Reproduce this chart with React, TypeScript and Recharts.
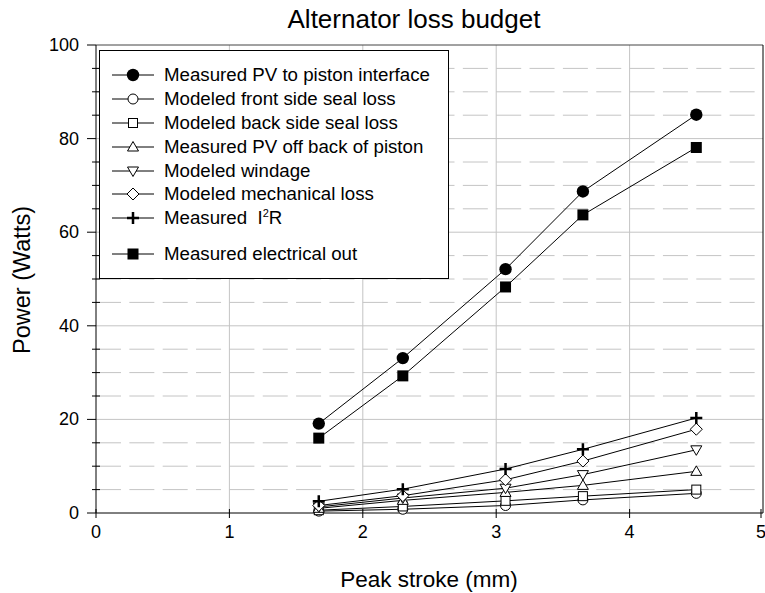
import { LineChart, Line, XAxis, YAxis, ReferenceLine, Legend } from "recharts"

const strokeMm = [1.67, 2.3, 3.07, 3.65, 4.5]

const pvPiston = [19.1, 33.1, 52.1, 68.7, 85.1]
const frontSeal = [0.4, 0.8, 1.6, 2.8, 4.2]
const backSeal = [0.6, 1.4, 2.6, 3.6, 5.0]
const pvBack = [1.0, 2.7, 4.4, 5.9, 8.9]
const windage = [1.3, 3.2, 5.3, 8.2, 13.5]
const mechLoss = [1.6, 3.7, 7.1, 11.1, 17.9]
const i2r = [2.5, 5.1, 9.4, 13.6, 20.3]
const elecOut = [16.0, 29.3, 48.3, 63.7, 78.1]

const xTicks = [0, 1, 2, 3, 4, 5]
const yTicks = [0, 5, 10, 15, 20, 25, 30, 35, 40, 45, 50, 55, 60, 65, 70, 75, 80, 85, 90, 95, 100]
const yMajor = [0, 20, 40, 60, 80, 100]
const xGrid = [1, 2, 3, 4]
const yGridSolid = [20, 40, 60, 80]
const yGridDashed = [5, 10, 15, 25, 30, 35, 45, 50, 55, 65, 70, 75, 85, 90, 95]

const series = [
  { key: "pvPiston", name: "Measured PV to piston interface", values: pvPiston, marker: "filledCircle" },
  { key: "frontSeal", name: "Modeled front side seal loss", values: frontSeal, marker: "circle" },
  { key: "backSeal", name: "Modeled back side seal loss", values: backSeal, marker: "square" },
  { key: "pvBack", name: "Measured PV off back of piston", values: pvBack, marker: "triangleUp" },
  { key: "windage", name: "Modeled windage", values: windage, marker: "triangleDown" },
  { key: "mechLoss", name: "Modeled mechanical loss", values: mechLoss, marker: "diamond" },
  { key: "i2r", name: "Measured I2R", values: i2r, marker: "plus" },
  { key: "elecOut", name: "Measured electrical out", values: elecOut, marker: "filledSquare" },
]

const data = strokeMm.map((x, i) => {
  const row: Record<string, number> = { x }
  series.forEach((s) => (row[s.key] = s.values[i]))
  return row
})

const FONT = "'Liberation Sans', Arial, sans-serif"

function Marker({ cx, cy, kind }: { cx: number; cy: number; kind: string }) {
  const st = { stroke: "#000", strokeWidth: 1, fill: "#fff" }
  switch (kind) {
    case "filledCircle":
      return <circle cx={cx} cy={cy} r={6.2} fill="#000" />
    case "circle":
      return <circle cx={cx} cy={cy} r={5} {...st} />
    case "square":
      return <rect x={cx - 4.5} y={cy - 4.5} width={9} height={9} {...st} />
    case "filledSquare":
      return <rect x={cx - 5.5} y={cy - 5.5} width={11} height={11} fill="#000" />
    case "triangleUp":
      return <path d={`M${cx},${cy - 5.5} L${cx + 5.5},${cy + 4} L${cx - 5.5},${cy + 4} Z`} {...st} />
    case "triangleDown":
      return <path d={`M${cx},${cy + 5.5} L${cx + 5.5},${cy - 4} L${cx - 5.5},${cy - 4} Z`} {...st} />
    case "diamond":
      return <path d={`M${cx},${cy - 6} L${cx + 6},${cy} L${cx},${cy + 6} L${cx - 6},${cy} Z`} {...st} />
    case "plus":
      return (
        <path d={`M${cx - 6},${cy} L${cx + 6},${cy} M${cx},${cy - 6} L${cx},${cy + 6}`} stroke="#000" strokeWidth={2.5} />
      )
    default:
      return null
  }
}

function YTick(props: any) {
  const { x, y, payload } = props
  const major = yMajor.includes(payload.value)
  return (
    <g>
      <line x1={major ? x - 9 : x - 4} x2={major ? x : x + 4} y1={y} y2={y} stroke="#000" />
      {major && (
        <text x={x - 17} y={y} dy={6} textAnchor="end" fontSize={18} fontFamily={FONT} fill="#000">
          {payload.value}
        </text>
      )}
    </g>
  )
}

function XTick(props: any) {
  const { x, y, payload } = props
  return (
    <g>
      <line x1={x} x2={x} y1={y - 4} y2={y + 5} stroke="#000" />
      <text x={x} y={y} dy={25} textAnchor="middle" fontSize={18} fontFamily={FONT} fill="#000">
        {payload.value}
      </text>
    </g>
  )
}

function LegendBox() {
  return (
    <div
      style={{
        width: 350,
        height: 229,
        border: "1px solid #000",
        background: "#fff",
        fontFamily: FONT,
        fontSize: 18.7,
        paddingTop: 12.5,
        boxSizing: "border-box",
      }}
    >
      {series.map((s, i) => (
        <div
          key={s.key}
          style={{ display: "flex", alignItems: "center", height: 23.8, marginTop: i === 7 ? 12 : 0 }}
        >
          <svg width={64} height={20} style={{ flex: "none" }}>
            <line x1={12} x2={54} y1={10} y2={10} stroke="#000" />
            <Marker cx={33} cy={10} kind={s.marker} />
          </svg>
          <span style={{ whiteSpace: "nowrap" }}>
            {s.key === "i2r" ? (
              <>
                Measured&nbsp; I<sup style={{ fontSize: 11, verticalAlign: 7 }}>2</sup>R
              </>
            ) : (
              s.name
            )}
          </span>
        </div>
      ))}
    </div>
  )
}

export default function App() {
  return (
    <div style={{ position: "absolute", left: 0, top: 0, width: 765, height: 593, overflow: "hidden", background: "#fff" }}>
      <div
        style={{
          position: "absolute",
          left: 0,
          width: 828,
          top: 4,
          textAlign: "center",
          fontFamily: FONT,
          fontSize: 26,
        }}
      >
        Alternator loss budget
      </div>
      <LineChart width={765} height={593} data={data} margin={{ top: 45, right: 2, left: 0, bottom: 0 }}>
        <XAxis
          dataKey="x"
          type="number"
          domain={[0, 5]}
          ticks={xTicks}
          height={80}
          tickSize={0}
          tickMargin={0}
          tick={<XTick />}
          axisLine={{ stroke: "#000" }}
          tickLine={false}
          label={{
            content: () => (
              <text x={429} y={587} textAnchor="middle" fontSize={22.5} fontFamily={FONT} fill="#000">
                Peak stroke (mm)
              </text>
            ),
          }}
        />
        <YAxis
          type="number"
          domain={[0, 100]}
          ticks={yTicks}
          interval={0}
          width={96}
          tickSize={0}
          tickMargin={0}
          tick={<YTick />}
          axisLine={{ stroke: "#000" }}
          tickLine={false}
          label={{
            content: () => (
              <text
                x={22}
                y={280}
                transform="rotate(-90 22 280)"
                textAnchor="middle"
                dominantBaseline="central"
                fontSize={23.5}
                fontFamily={FONT}
                fill="#000"
              >
                Power (Watts)
              </text>
            ),
          }}
        />
        {xGrid.map((v) => (
          <ReferenceLine key={`xg${v}`} x={v} stroke="#c4c4c4" />
        ))}
        {yGridSolid.map((v) => (
          <ReferenceLine key={`ys${v}`} y={v} stroke="#c4c4c4" />
        ))}
        {yGridDashed.map((v) => (
          <ReferenceLine key={`yd${v}`} y={v} stroke="#c4c4c4" strokeDasharray="25 8.35" />
        ))}
        <ReferenceLine y={100} stroke="#444" />
        <ReferenceLine x={5} stroke="#000" />
        {series.map((s) => (
          <Line
            key={s.key}
            dataKey={s.key}
            name={s.name}
            type="linear"
            stroke="#000"
            strokeWidth={1}
            isAnimationActive={false}
            activeDot={false}
            dot={(p: any) => <Marker key={`${s.key}-${p.index}`} cx={p.cx} cy={p.cy} kind={s.marker} />}
          />
        ))}
        <Legend
          layout="horizontal"
          verticalAlign="middle"
          align="center"
          wrapperStyle={{ left: 99, top: 50, width: 350 }}
          content={() => <LegendBox />}
        />
      </LineChart>
    </div>
  )
}
